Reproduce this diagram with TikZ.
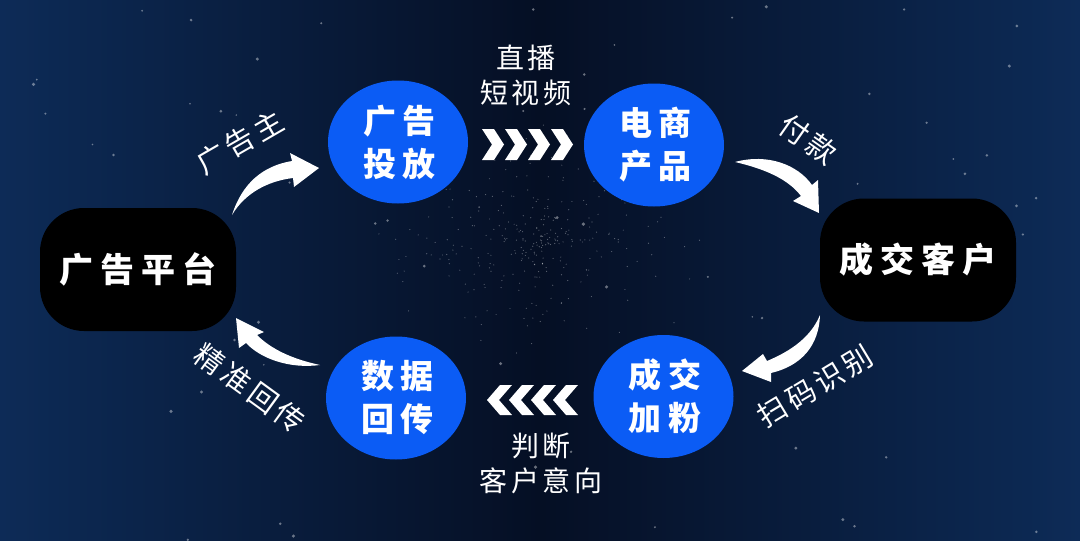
\documentclass[tikz,border=0pt]{standalone}
\usepackage{fontspec}
\newfontfamily\cjkbig{Noto Sans CJK SC}[LetterSpace=20]
\newfontfamily\cjklab{Noto Sans CJK SC}[LetterSpace=14]
\usetikzlibrary{shapes.geometric}
\definecolor{bgmid}{HTML}{050F24}
\definecolor{bgedge}{HTML}{0D2B57}
\definecolor{nodeblue}{HTML}{0B5CF5}
\tikzset{
  platbox/.style={fill=black, rounded corners=44pt, minimum width=196pt, minimum height=123pt,
    text=white, font=\cjkbig\bfseries\fontsize{34}{34}\selectfont, inner sep=0pt},
  bluecirc/.style={ellipse, fill=nodeblue, minimum width=140pt, minimum height=123pt,
    text=white, font=\cjkbig\bfseries\fontsize{33}{43}\selectfont, align=center, inner sep=0pt},
  lbl/.style={text=white, font=\cjklab\fontsize{28}{35}\selectfont, align=center, inner sep=0pt},
  rlbl/.style={text=white, font=\cjklab\fontsize{29}{35}\selectfont, inner sep=0pt},
  whiteshape/.style={fill=white, draw=none},
}
\begin{document}
\begin{tikzpicture}[x=1pt,y=-1pt]
\useasboundingbox (0,0) rectangle (1080,541);
\shade[left color=bgedge, right color=bgedge, middle color=bgmid] (0,0) rectangle (1080,541);
% stars
\pgfmathsetseed{12}
\foreach \i in {1,...,300}{
  \pgfmathsetmacro\xx{540+rand*170*rnd}
  \pgfmathsetmacro\yy{240+rand*120*rnd}
  \fill[white, opacity=0.35] (\xx,\yy) circle (0.6);
}
\foreach \i in {1,...,70}{
  \pgfmathsetmacro\xx{rnd*1080}
  \pgfmathsetmacro\yy{rnd*541}
  \pgfmathsetmacro\rr{0.8+rnd*1.0}
  \fill[white, opacity=0.4] (\xx,\yy) circle (\rr);
}
% nodes
\node[platbox] (plat) at (138,269.5) {广告平台};
\node[platbox] (deal) at (918,260) {成交客户};
\node[bluecirc] (ad) at (398,142) {\hspace*{3pt}广告\\\hspace*{3pt}投放};
\node[bluecirc] (ec) at (654,145) {\hspace*{3pt}电商\\\hspace*{3pt}产品};
\node[bluecirc] (fans) at (663.5,396.5) {\hspace*{3pt}成交\\\hspace*{3pt}加粉};
\node[bluecirc] (data) at (396,398) {\hspace*{3pt}数据\\\hspace*{3pt}回传};
% labels
\node[lbl] (live) at (526,75) {直播\\短视频};
\node[lbl] (judge) at (541,463) {判断\\客户意向};
\node[rlbl, rotate=30] (adv) at (240,142) {广告主};
\node[rlbl, rotate=-35] (pay) at (808,139) {付款};
\node[rlbl, rotate=31] (scan) at (815,386) {扫码识别};
\node[rlbl, rotate=-36] (back) at (250,388) {精准回传};
% chevrons right
\foreach \x in {482,505,528,551}{
  \fill[whiteshape] (\x,129) -- (\x+12,129) -- (\x+22,144.5) -- (\x+12,160) -- (\x,160) -- (\x+10,144.5) -- cycle;
}
% chevrons left
\foreach \x in {487,509,531,553}{
  \fill[whiteshape] (\x,400) -- (\x+13,385) -- (\x+25,385) -- (\x+12,400) -- (\x+25,415) -- (\x+13,415) -- cycle;
}
% curved arrows
\fill[whiteshape] (232,215) .. controls (242,184) and (262,166) .. (292,161) -- (290,153) -- (319,168) -- (294,187) -- (293,178) .. controls (268,181) and (245,193) .. (232,215) -- cycle;
\fill[whiteshape] (735,162) .. controls (768,153) and (798,165) .. (812,185) -- (818,180) -- (819,213) -- (793,201) -- (801,196) .. controls (788,179) and (765,169) .. (735,162) -- cycle;
\fill[whiteshape] (820,315) .. controls (819,346) and (801,366) .. (771,373) -- (771,382) -- (742,371) -- (763,354) -- (767,361) .. controls (791,351) and (811,337) .. (820,315) -- cycle;
\fill[whiteshape] (320,365) .. controls (290,369) and (261,359) .. (246,343) -- (239,348) -- (236,318) -- (264,332) -- (257,335) .. controls (271,349) and (292,359) .. (320,365) -- cycle;
\end{tikzpicture}
\end{document}
